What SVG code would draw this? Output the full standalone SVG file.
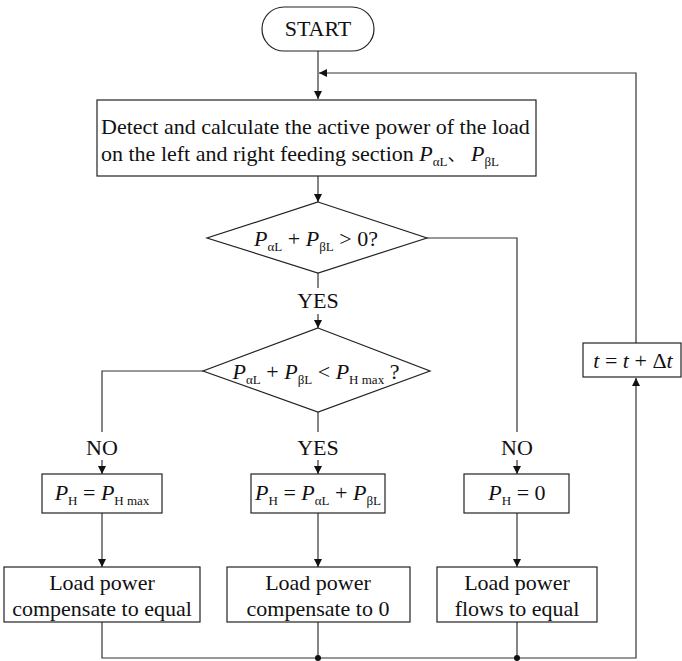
<svg xmlns="http://www.w3.org/2000/svg" width="682" height="661" viewBox="0 0 682 661">
<style>
.box{fill:#fff;stroke:#222;stroke-width:1.2}
.ln{fill:none;stroke:#333;stroke-width:1.2}
.t{font-family:"Liberation Serif","Times New Roman",serif;font-size:22px;fill:#111}
.i{font-style:italic}
.s{font-size:13px;font-style:normal}
</style>
<defs>
<marker id="ah" viewBox="0 0 10 10" refX="10" refY="5" markerWidth="8" markerHeight="8" markerUnits="userSpaceOnUse" orient="auto">
<path d="M0,0 L10,5 L0,10 z" fill="#111"/>
</marker>
</defs>
<g id="connectors">
<path class="ln" d="M318,51 V99" marker-end="url(#ah)"/>
<path class="ln" d="M636,343 V73 H319" marker-end="url(#ah)"/>
<path class="ln" d="M318,176 V202" marker-end="url(#ah)"/>
<path class="ln" d="M318,273 V288"/>
<path class="ln" d="M318,314 V328" marker-end="url(#ah)"/>
<path class="ln" d="M203,371 H102 V432"/>
<path class="ln" d="M318,412 V432"/>
<path class="ln" d="M427,238 H517 V432"/>
<path class="ln" d="M102,460 V474" marker-end="url(#ah)"/>
<path class="ln" d="M318,460 V474" marker-end="url(#ah)"/>
<path class="ln" d="M517,460 V474" marker-end="url(#ah)"/>
<path class="ln" d="M102,513 V567" marker-end="url(#ah)"/>
<path class="ln" d="M318,513 V567" marker-end="url(#ah)"/>
<path class="ln" d="M517,513 V567" marker-end="url(#ah)"/>
<path class="ln" d="M102,622 V658 H636 V378" marker-end="url(#ah)"/>
<path class="ln" d="M318,622 V658"/>
<path class="ln" d="M517,622 V658"/>
<circle cx="318" cy="658" r="3" fill="#111"/>
<circle cx="517" cy="658" r="3" fill="#111"/>
<text class="t" x="318" y="308" text-anchor="middle">YES</text>
<text class="t" x="102" y="455" text-anchor="middle">NO</text>
<text class="t" x="318" y="455" text-anchor="middle">YES</text>
<text class="t" x="517" y="455" text-anchor="middle">NO</text>
</g>
<g id="start">
<rect class="box" x="262" y="7" width="112" height="44" rx="22" ry="22"/>
<text class="t" x="318" y="36" text-anchor="middle">START</text>
</g>
<g id="detect">
<rect class="box" x="97" y="100" width="439" height="76"/>
<text class="t" x="101" y="134">Detect and calculate the active power of the load</text>
<text class="t" x="101" y="161">on the left and right feeding section <tspan class="i">P</tspan><tspan class="s" dy="5">αL</tspan><tspan dy="-5" font-family="'Noto Sans CJK SC',sans-serif" font-size="18">、</tspan><tspan class="i"> P</tspan><tspan class="s" dy="5">βL</tspan></text>
</g>
<g id="decision1">
<polygon class="box" points="318,202 427,238 318,273 207,238"/>
<text class="t" x="316" y="246" text-anchor="middle"><tspan class="i">P</tspan><tspan class="s" dy="5">αL</tspan><tspan dy="-5"> + </tspan><tspan class="i">P</tspan><tspan class="s" dy="5">βL</tspan><tspan dy="-5"> &gt; 0?</tspan></text>
</g>
<g id="decision2">
<polygon class="box" points="318,328 430,371 318,412 203,371"/>
<text class="t" x="316" y="379" text-anchor="middle"><tspan class="i">P</tspan><tspan class="s" dy="5">αL</tspan><tspan dy="-5"> + </tspan><tspan class="i">P</tspan><tspan class="s" dy="5">βL</tspan><tspan dy="-5"> &lt; </tspan><tspan class="i">P</tspan><tspan class="s" dy="5">H max</tspan><tspan dy="-5"> ?</tspan></text>
</g>
<g id="tbox">
<rect class="box" x="583" y="343" width="98" height="34"/>
<text class="t" x="633" y="368" text-anchor="middle"><tspan class="i">t</tspan> = <tspan class="i">t</tspan> + Δ<tspan class="i">t</tspan></text>
</g>
<g id="ph-max">
<rect class="box" x="42" y="474" width="120" height="39"/>
<text class="t" x="102" y="500" text-anchor="middle"><tspan class="i">P</tspan><tspan class="s" dy="5">H</tspan><tspan dy="-5"> = </tspan><tspan class="i">P</tspan><tspan class="s" dy="5">H max</tspan></text>
</g>
<g id="ph-sum">
<rect class="box" x="251" y="474" width="134" height="39"/>
<text class="t" x="318" y="500" text-anchor="middle"><tspan class="i">P</tspan><tspan class="s" dy="5">H</tspan><tspan dy="-5"> = </tspan><tspan class="i">P</tspan><tspan class="s" dy="5">αL</tspan><tspan dy="-5"> + </tspan><tspan class="i">P</tspan><tspan class="s" dy="5">βL</tspan></text>
</g>
<g id="ph-zero">
<rect class="box" x="464" y="474" width="105" height="39"/>
<text class="t" x="517" y="500" text-anchor="middle"><tspan class="i">P</tspan><tspan class="s" dy="5">H</tspan><tspan dy="-5"> = 0</tspan></text>
</g>
<g id="out-equal">
<rect class="box" x="4" y="567" width="196" height="55"/>
<text class="t" x="102" y="590" text-anchor="middle">Load power</text>
<text class="t" x="102" y="616" text-anchor="middle">compensate to equal</text>
</g>
<g id="out-zero">
<rect class="box" x="227" y="567" width="183" height="55"/>
<text class="t" x="318" y="590" text-anchor="middle">Load power</text>
<text class="t" x="318" y="616" text-anchor="middle">compensate to 0</text>
</g>
<g id="out-flow">
<rect class="box" x="437" y="567" width="160" height="55"/>
<text class="t" x="517" y="590" text-anchor="middle">Load power</text>
<text class="t" x="517" y="616" text-anchor="middle">flows to equal</text>
</g>
</svg>
